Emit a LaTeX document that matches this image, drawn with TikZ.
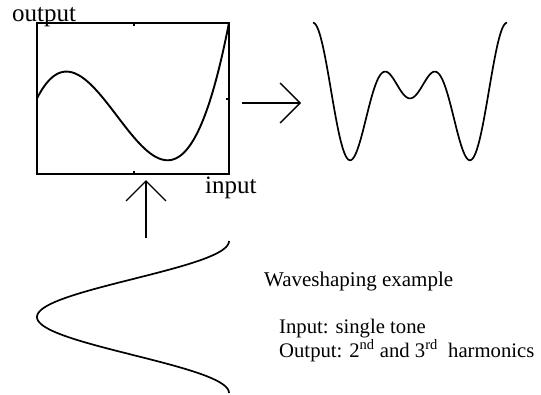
\documentclass[tikz,border=0pt]{standalone}
\usepackage{fontspec}
\setmainfont{Liberation Serif}
\usetikzlibrary{arrows.meta}
\begin{document}
\begin{tikzpicture}[x=1pt,y=-1pt,
  frame/.style={line width=2.6pt},
  curve/.style={line width=1.9pt, line join=round},
  wave/.style={line width=1.7pt, line join=round},
  bigarrow/.style={line width=1.4pt, -{Straight Barb[length=20pt,width=40pt,line width=1.4pt]}},
  lbl/.style={inner sep=0pt, anchor=base west, font=\fontsize{25}{28}\selectfont},
  txt/.style={inner sep=0pt, anchor=base west, align=left, font=\fontsize{21}{21}\selectfont}
]
\useasboundingbox (0,0) rectangle (541,394);
% transfer function box
\draw[frame] (37,23) rectangle (229,174);
\draw[line width=1.2pt] (134,23) -- (134,26) (134,174) -- (134,171) (229,99) -- (226,99);
\draw[curve, domain=-1:1, samples=120] plot ({133+96*\x}, {98.4-75.7*(\x*\x-0.5+2*\x*\x*\x-1.5*\x)});
% output waveform
\draw[wave, domain=0:360, samples=200] plot ({313+0.53889*\x}, {98.4-75.7*(cos(\x)*cos(\x)-0.5+2*cos(\x)*cos(\x)*cos(\x)-1.5*cos(\x))});
% input waveform
\draw[wave, domain=0:360, samples=150] plot ({133+96*cos(\x)}, {241+0.42222*\x});
% arrows
\coordinate (upS) at (146,238);
\coordinate (upE) at (146,180);
\coordinate (rS) at (242,103);
\coordinate (rE) at (301,103);
\draw[bigarrow] (upS) -- (upE);
\draw[bigarrow] (rS) -- (rE);
% labels
\node[lbl] (outl) at (12,21) {output};
\node[lbl] (inl) at (205,193) {input};
\node[txt] (title) at (264,286) {Waveshaping example};
\node[txt, font=\fontsize{20.7}{21}\selectfont] (body) at (279,357) {Input: single tone\\Output: 2\textsuperscript{nd} and 3\textsuperscript{rd}\ \ harmonics};
\end{tikzpicture}
\end{document}
